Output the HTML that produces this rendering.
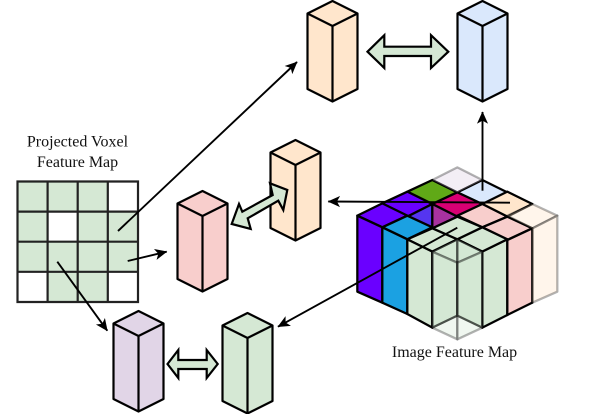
<!DOCTYPE html>
<html>
<head>
<meta charset="utf-8">
<style>
html,body{margin:0;padding:0;background:#fff;width:607px;height:414px;overflow:hidden}
svg{display:block}
text{font-family:"Liberation Serif",serif;font-size:16px;fill:#111;text-anchor:middle}
</style>
</head>
<body>
<svg width="607" height="414" viewBox="0 0 607 414" xmlns="http://www.w3.org/2000/svg">
<defs>
<g id="v" stroke="#000" stroke-width="2.2" stroke-linejoin="round">
<polygon points="0,12.5 25,0 50,12.5 50,88 25,100.5 0,88"/>
<path d="M0,12.5 L25,25 L50,12.5 M25,25 V100.5" fill="none"/>
</g>
<marker id="a" viewBox="0 0 10 10" refX="9.5" refY="5" markerWidth="6.5" markerHeight="6.5" orient="auto" markerUnits="strokeWidth">
<path d="M0,0.5 L10,5 L0,9.5 L2.5,5 Z" fill="#000"/>
</marker>
</defs>

<!-- feature map -->
<g transform="translate(340 150) scale(0.33333)" stroke-width="6.8" stroke-linejoin="round">
<g stroke="#000">
<polygon fill="#dae8fc" points="427,90 502,127 427,165 352,127"/>
<polygon fill="#60a917" points="277,90 352,127 277,162 202,125"/>
<polygon fill="#ffe6cc" points="502,125 577,162 502,200 427,162"/>
<polygon fill="#d80073" points="352,127 427,162 352,200 277,162"/>
<polygon fill="#6a00ff" points="202,125 277,162 202,200 127,160"/>
<polygon fill="#f8cecc" points="427,162 502,200 427,232 352,197"/>
<polygon fill="#5535f0" points="277,162 277,237 202,200"/>
<polygon fill="#a832a0" points="277,162 352,200 277,237"/>
<polygon fill="#6a00ff" points="127,160 202,197 127,232 52,197"/>
<polygon fill="#f8cecc" points="502,200 577,235 502,270 427,232"/>
<polygon fill="#d5e8d4" points="352,200 427,232 352,270 277,235"/>
<polygon fill="#1ba1e2" points="202,197 277,232 202,268 127,232"/>
<polygon fill="#d5e8d4" points="427,232 502,268 427,305 352,268"/>
<polygon fill="#d5e8d4" points="277,235 352,268 277,305 202,268"/>
<polygon fill="#6a00ff" points="52,197 127,232 127,458 52,425"/>
<polygon fill="#1ba1e2" points="127,232 202,268 202,492 127,458"/>
<polygon fill="#d5e8d4" points="202,268 277,305 277,533 202,492"/>
<polygon fill="#d5e8d4" points="277,305 352,268 352,497 277,533"/>
<polygon fill="#d5e8d4" points="352,268 427,305 427,533 352,497"/>
<polygon fill="#d5e8d4" points="427,305 502,268 502,495 427,533"/>
<polygon fill="#f8cecc" points="502,270 577,235 577,458 502,495"/>
</g>
<g stroke="#000" stroke-opacity="0.3">
<polygon fill="#e1d5e7" fill-opacity="0.4" points="352,52 427,90 352,127 277,90"/>
<polygon fill="#ffe6cc" fill-opacity="0.4" points="577,162 652,197 577,235 502,197"/>
<polygon fill="#ffe6cc" fill-opacity="0.4" points="577,235 652,197 652,425 577,458"/>
<polygon fill="#d5e8d4" fill-opacity="0.35" points="352,268 427,305 352,338 277,305"/>
<polygon fill="#d5e8d4" fill-opacity="0.35" points="277,305 352,338 352,568 277,533"/>
<polygon fill="#d5e8d4" fill-opacity="0.35" points="352,338 427,305 427,533 352,568"/>
</g>
</g>

<!-- grid -->
<rect x="17.5" y="181.5" width="120.5" height="120.5" fill="#d5e8d4"/>
<g fill="#fff">
<rect x="108" y="181.5" width="30" height="30"/>
<rect x="47.5" y="211.5" width="30" height="30"/>
<rect x="17.5" y="272" width="30" height="30"/>
<rect x="108" y="272" width="30" height="30"/>
</g>
<path d="M17.5,181.5H138V302H17.5Z M47.6,181.5V302 M77.7,181.5V302 M107.8,181.5V302 M17.5,211.6H138 M17.5,241.7H138 M17.5,271.8H138" fill="none" stroke="#222" stroke-width="2.2"/>

<!-- voxels -->
<use href="#v" x="307.5" y="1" fill="#ffe6cc"/>
<use href="#v" x="457.5" y="1" fill="#dae8fc"/>
<use href="#v" x="270.5" y="140" fill="#ffe6cc"/>
<use href="#v" x="177.5" y="191" fill="#f8cecc"/>
<use href="#v" x="113.5" y="311" fill="#e1d5e7"/>
<use href="#v" x="222.5" y="313" fill="#d5e8d4"/>

<!-- double arrows -->
<g fill="#d5e8d4" stroke="#000" stroke-width="2.2" stroke-linejoin="miter">
<polygon points="367.5,51.7 384.3,35.2 384.3,46.7 431,46.7 431,35.2 448.3,51.7 431,68 431,56 384.3,56 384.3,68"/>
<polygon points="167.5,364 178.3,350 178.3,360 206.7,360 206.7,350 217.7,364 206.7,378 206.7,369 178.3,369 178.3,378"/>
<polygon points="231.7,224 239,204 242.3,211.7 272.7,195 270,183.3 287.3,190 283.3,210 278.3,200.7 247.7,218.3 250.7,229"/>
</g>

<!-- arrows -->
<g fill="none" stroke="#000" stroke-width="1.9">
<line x1="118" y1="231" x2="297" y2="62" marker-end="url(#a)"/>
<line x1="127.7" y1="261" x2="166.7" y2="251.7" marker-end="url(#a)"/>
<line x1="57.3" y1="261.7" x2="107.3" y2="330.7" marker-end="url(#a)"/>
<line x1="457.3" y1="227.7" x2="278" y2="326.7" marker-end="url(#a)"/>
<line x1="510" y1="202.7" x2="328.3" y2="201.5" marker-end="url(#a)"/>
<line x1="482.5" y1="190.7" x2="482.5" y2="112" marker-end="url(#a)"/>
</g>

<!-- labels -->
<text x="77.5" y="146.5">Projected Voxel</text>
<text x="77.5" y="167">Feature Map</text>
<text x="454.5" y="357">Image Feature Map</text>
</svg>
</body>
</html>
